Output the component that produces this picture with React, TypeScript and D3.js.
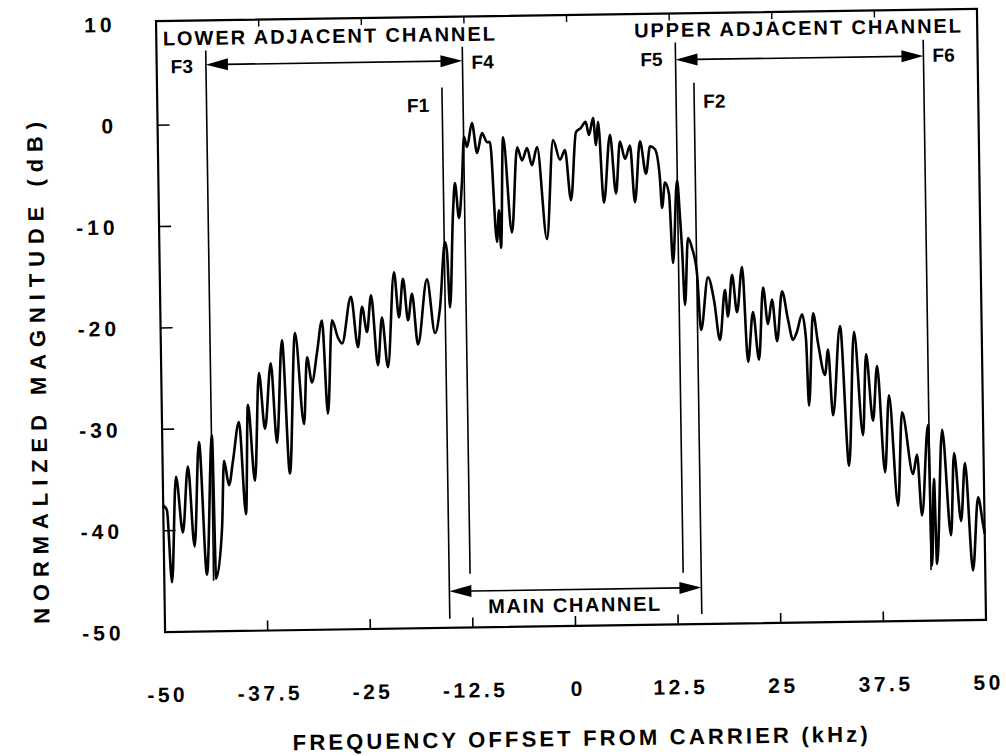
import React from 'react';
import * as d3 from 'd3';

// Spectrum (frequency offset in kHz, magnitude in dB)
const freqKHz = [
  -50, -49.55, -49.07, -48.39, -47.65, -46.92, -46.25, -45.53, -44.8, -43.93,
  -43.7, -42.87, -42.51, -41.95, -41.42, -40.62, -39.93, -39.5, -38.78, -38.1,
  -37.47, -36.64, -36.03, -35.24, -34.51, -33.64, -32.7, -32.22, -31.66, -31.0,
  -30.33, -29.77, -29.11, -28.42, -27.93, -26.76, -25.99, -25.43, -24.87, -24.31,
  -23.59, -23.02, -22.38, -21.47, -20.95, -20.39, -19.85, -19.32, -18.68, -17.47,
  -16.59, -15.93, -15.2, -14.98, -14.71, -14.18, -13.89, -13.46, -13.02, -12.7,
  -12.36, -11.71, -11.14, -10.51, -9.91, -9.55, -8.87, -8.57, -8.39, -7.95,
  -7.03, -6.25, -5.68, -5.04, -4.48, -3.82, -2.78, -1.86, -1.05, -0.43,
  0.22, 0.94, 1.53, 2.14, 2.52, 3.05, 3.36, 3.65, 4.22, 5.08,
  5.71, 6.28, 6.87, 7.5, 8.0, 8.72, 9.4, 9.94, 10.54, 11.07,
  11.29, 11.69, 12.16, 12.53, 13.17, 13.46, 13.65, 13.91, 14.4, 14.87,
  15.43, 15.82, 16.76, 17.46, 18.11, 18.81, 19.12, 19.7, 20.23, 20.93,
  21.49, 22.18, 22.83, 23.45, 23.98, 24.52, 25.06, 25.75, 26.43, 27.0,
  27.5, 28.15, 28.59, 28.83, 29.49, 30.05, 30.84, 31.25, 31.74, 32.75,
  33.61, 34.44, 35.36, 35.87, 36.6, 37.19, 37.98, 38.59, 39.5, 40.15,
  41.38, 41.9, 42.4, 43.3, 43.53, 43.92, 44.14, 45.0, 45.9, 46.41,
  47.15, 47.72, 48.51, 49.26, 49.8, 50
];
const magDb = [
  -37.5, -38.0, -45.1, -34.7, -40.2, -33.7, -41.6, -31.3, -44.4, -30.7,
  -44.8, -39.8, -33.2, -35.6, -33.2, -29.4, -38.5, -27.7, -35.2, -24.6,
  -30.1, -23.65, -31.5, -21.4, -34.55, -20.7, -29.7, -23.1, -25.6, -22.7,
  -19.5, -28.7, -19.5, -21.2, -21.8, -17.2, -22.2, -18.2, -20.7, -17.1,
  -24.0, -19.3, -24.2, -14.85, -19.3, -15.5, -19.6, -17.0, -22.0, -15.6,
  -20.9, -18.4, -11.95, -12.95, -18.4, -9.1, -6.15, -9.6, -5.9, -1.6,
  -2.6, -0.25, -3.2, -1.25, -2.15, -2.15, -12.0, -8.9, -12.6, -1.7,
  -11.1, -2.7, -4.0, -2.8, -4.5, -2.7, -11.8, -2.05, -4.0, -3.05,
  -8.0, -1.3, -0.9, -0.3, -1.6, 0.07, -2.6, -0.3, -8.3, -1.6,
  -7.4, -2.3, -4.0, -2.7, -8.3, -2.3, -5.5, -2.8, -3.1, -5.8,
  -8.9, -6.4, -7.5, -14.35, -6.2, -9.8, -12.8, -18.5, -11.9, -12.9,
  -15.4, -21.0, -15.8, -18.1, -22.0, -17.1, -19.7, -15.6, -19.3, -14.85,
  -24.2, -19.3, -24.0, -16.9, -20.5, -18.1, -22.2, -17.3, -20.1, -22.1,
  -21.3, -19.6, -22.1, -28.6, -19.5, -22.5, -25.6, -23.1, -29.6, -20.8,
  -34.6, -21.4, -31.6, -23.6, -30.2, -24.8, -35.3, -27.7, -38.6, -29.4,
  -35.5, -33.6, -39.6, -30.7, -44.55, -36.0, -44.4, -31.2, -41.6, -33.5,
  -40.2, -34.5, -45.1, -37.9, -40.5, -41.5
];

const xTicks = [-50, -37.5, -25, -12.5, 0, 12.5, 25, 37.5, 50];
const xTickLabels = ['-50', '-37.5', '-25', '-12.5', '0', '12.5', '25', '37.5', '50'];
const yTicks = [10, 0, -10, -20, -30, -40, -50];

// Band-edge markers
const markerNames = ['F3', 'F4', 'F1', 'F5', 'F2', 'F6'];
const markerFreqs = [-44.0, -12.75, -15.3, 13.2, 15.4, 43.4];
const markerTopDb = [7.3, 7.3, 3.3, 7.4, 3.4, 7.3];
const markerBottomDb = [-45, -44.7, -49.1, -44.9, -49.0, -45];
const markerLabelSide = ['left', 'right', 'left', 'left', 'right', 'right'];
const markerLabelDb = [5.8, 5.8, 1.6, 5.8, 1.6, 5.8];

// Channel spans
const channelNames = ['LOWER ADJACENT CHANNEL', 'MAIN CHANNEL', 'UPPER ADJACENT CHANNEL'];
const channelFrom = [-44.0, -15.3, 13.2];
const channelTo = [-12.75, 15.4, 43.4];
const channelArrowDb = [5.9, -46.4, 5.7];

const W = 1006;
const H = 756;
const FONT = '"Liberation Sans", Arial, Helvetica, sans-serif';

export default function App() {
  const x = d3.scaleLinear().domain([-50, 50]).range([160.5, 981.5]);
  const y = d3.scaleLinear().domain([-50, 10]).range([626, 17.7]);
  const frameTop = 15;
  const frameBottom = y(-50);

  const pts: [number, number][] = freqKHz.map((f, i) => [f, magDb[i]]);
  const line = d3
    .line<[number, number]>()
    .x((d) => x(d[0]))
    .y((d) => y(d[1]))
    .curve(d3.curveMonotoneX);

  const arrow = (x1: number, x2: number, yy: number, key: string) => {
    const L = 22;
    const h = 6;
    return (
      <g key={key}>
        <line x1={x1 + 4} x2={x2 - 4} y1={yy} y2={yy} stroke="#000" strokeWidth={1.6} />
        <polygon points={`${x1},${yy} ${x1 + L},${yy - h} ${x1 + L},${yy + h}`} fill="#000" />
        <polygon points={`${x2},${yy} ${x2 - L},${yy - h} ${x2 - L},${yy + h}`} fill="#000" />
      </g>
    );
  };

  return (
    <svg
      width={W}
      height={H}
      viewBox={`0 0 ${W} ${H}`}
      style={{ position: 'absolute', left: 0, top: 0, background: '#fff' }}
      fontFamily={FONT}
    >
      <rect x={0} y={0} width={W} height={H} fill="#fff" />
      <g transform="rotate(-0.85 571 320)">
        {/* frame */}
        <rect
          x={x(-50)}
          y={frameTop}
          width={x(50) - x(-50)}
          height={frameBottom - frameTop}
          fill="none"
          stroke="#000"
          strokeWidth={2.2}
        />
        {/* ticks */}
        {xTicks.slice(1, -1).map((t) => (
          <g key={'xt' + t}>
            <line x1={x(t)} x2={x(t)} y1={frameBottom} y2={frameBottom - 10} stroke="#000" strokeWidth={1.6} />
            <line x1={x(t)} x2={x(t)} y1={frameTop} y2={frameTop + 7} stroke="#000" strokeWidth={1.4} />
          </g>
        ))}
        {yTicks.slice(1, -1).map((t) => (
          <line key={'yt' + t} x1={x(-50)} x2={x(-50) + 12} y1={y(t)} y2={y(t)} stroke="#000" strokeWidth={1.6} />
        ))}
        {/* tick labels */}
        {yTicks.map((t) => (
          <text
            key={'yl' + t}
            x={120}
            y={y(t) + 7.5}
            textAnchor="end"
            fontSize={21}
            fontWeight="bold"
            letterSpacing={4}
          >
            {String(t)}
          </text>
        ))}
        {xTicks.map((t, i) => (
          <text
            key={'xl' + t}
            x={x(t) + 1.75}
            y={696}
            textAnchor="middle"
            fontSize={21}
            fontWeight="bold"
            letterSpacing={3.5}
          >
            {xTickLabels[i]}
          </text>
        ))}
        {/* axis titles */}
        <text x={574} y={746} textAnchor="middle" fontSize={22} fontWeight="bold" textLength={575} lengthAdjust="spacing">
          FREQUENCY OFFSET FROM CARRIER (kHz)
        </text>
        <text
          transform="translate(45,365) rotate(-90)"
          textAnchor="middle"
          fontSize={22}
          fontWeight="bold"
          textLength={502}
          lengthAdjust="spacing"
        >
          NORMALIZED MAGNITUDE (dB)
        </text>

        {/* marker lines */}
        {markerNames.map((n, i) => (
          <line
            key={'m' + n}
            x1={x(markerFreqs[i])}
            x2={x(markerFreqs[i])}
            y1={y(markerTopDb[i])}
            y2={y(markerBottomDb[i])}
            stroke="#000"
            strokeWidth={1.6}
          />
        ))}
        {markerNames.map((n, i) => (
          <text
            key={'ml' + n}
            x={markerLabelSide[i] === 'left' ? x(markerFreqs[i]) - 13 : x(markerFreqs[i]) + 9}
            y={y(markerLabelDb[i]) + 7}
            textAnchor={markerLabelSide[i] === 'left' ? 'end' : 'start'}
            fontSize={19}
            fontWeight="bold"
          >
            {n}
          </text>
        ))}

        {/* channel arrows */}
        {channelNames.map((n, i) => arrow(x(channelFrom[i]), x(channelTo[i]), y(channelArrowDb[i]), 'a' + i))}
        <text x={x(-49.2)} y={39.4} fontSize={20} fontWeight="bold" textLength={332} lengthAdjust="spacing">
          {channelNames[0]}
        </text>
        <text x={x(0) - 1} y={612} textAnchor="middle" fontSize={20} fontWeight="bold" textLength={172} lengthAdjust="spacing">
          {channelNames[1]}
        </text>
        <text x={x(8.2)} y={38.4} fontSize={20} fontWeight="bold" textLength={327} lengthAdjust="spacing">
          {channelNames[2]}
        </text>

        {/* spectrum */}
        <path d={line(pts) || ''} fill="none" stroke="#000" strokeWidth={2.6} strokeLinejoin="round" />
      </g>
    </svg>
  );
}
